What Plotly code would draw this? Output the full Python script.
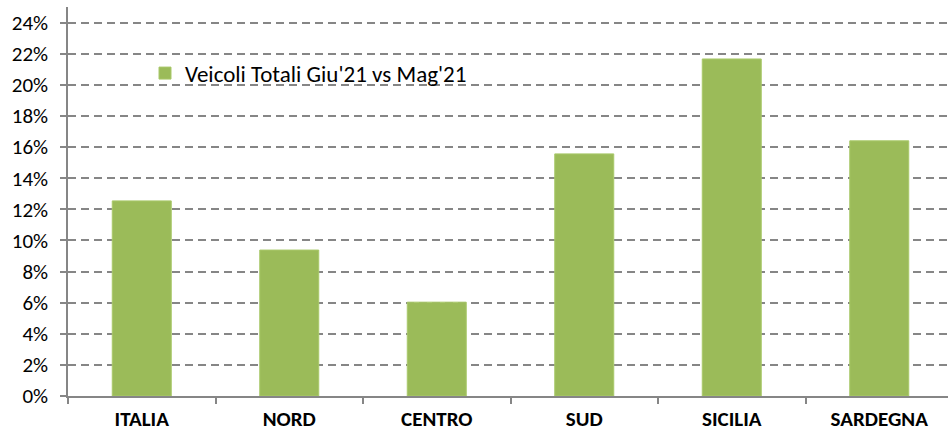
import plotly.graph_objects as go

categories = ["ITALIA", "NORD", "CENTRO", "SUD", "SICILIA", "SARDEGNA"]
values = [12.54, 9.38, 6.03, 15.56, 21.66, 16.40]
series_name = "Veicoli Totali Giu'21 vs Mag'21"
y_ticks = list(range(0, 26, 2))
y_tick_labels = [f"{v}%" for v in y_ticks]

FONT = "Calibri, Carlito, Lato, sans-serif"
GREY = "#868686"

fig = go.Figure()
fig.add_trace(go.Bar(
    x=categories, y=values, name=series_name,
    marker=dict(color="#9BBB59", line=dict(color="#A9C96A", width=1)),
    width=0.4, showlegend=True,
))

fig.update_layout(
    width=948, height=432,
    margin=dict(l=68, r=0, t=7, b=36, autoexpand=False),
    paper_bgcolor="white", plot_bgcolor="white",
    font=dict(family=FONT, color="#000000"),
    bargap=0.6,
    showlegend=True,
    legend=dict(
        x=0.0875, y=0.83, xanchor="left", yanchor="middle",
        bgcolor="rgba(0,0,0,0)", font=dict(size=23, family=FONT, color="#000"),
    ),
    xaxis=dict(
        type="category", range=[-0.5, 5.466], automargin=False,
        showline=True, linecolor=GREY, linewidth=1.5,
        ticks="outside", tickson="boundaries", ticklen=6, tickcolor=GREY, tickwidth=1.5,
        tickfont=dict(size=21, family=FONT, color="#000", weight="bold"),
        ticklabelstandoff=3,
        showgrid=False, zeroline=False,
    ),
    yaxis=dict(
        range=[0, 25], tickvals=y_ticks, ticktext=y_tick_labels, automargin=False,
        showline=True, linecolor=GREY, linewidth=1.5,
        ticks="outside", ticklen=6, tickcolor=GREY, tickwidth=1.5,
        tickfont=dict(size=21, family=FONT, color="#000"),
        ticklabelstandoff=8,
        showgrid=True, gridcolor=GREY, gridwidth=1.5, griddash="8px,5px",
        zeroline=False,
    ),
)

fig.write_html("out.html", config={"displayModeBar": False},
               post_script="document.body.style.margin='0';")
